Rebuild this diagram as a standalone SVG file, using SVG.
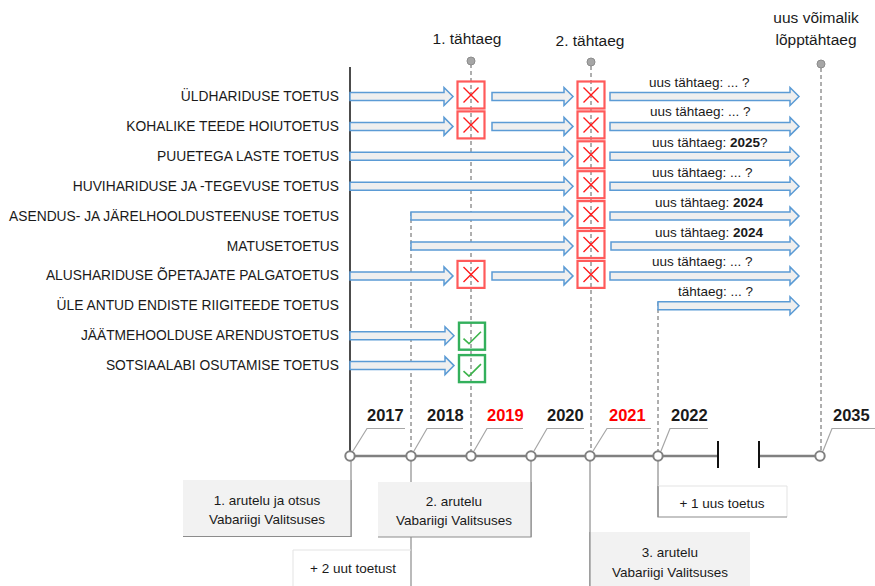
<svg xmlns="http://www.w3.org/2000/svg" width="875" height="586" viewBox="0 0 875 586">
<style>
text{font-family:"Liberation Sans",Arial,sans-serif;fill:#1a1a1a}
.lbl{font-size:13.8px;text-anchor:end}
.dl{font-size:13.5px}
.top{font-size:15.5px;text-anchor:middle}
.yr{font-size:16.5px;font-weight:bold}
.red{fill:#ff0000}
.bx{font-size:13.5px;text-anchor:middle}
.arr{fill:#efefef;stroke:#5b9bd5;stroke-width:1.5;stroke-linejoin:miter}
.xb{fill:none;stroke:#ff5a5a;stroke-width:2.2}
.xx{stroke:#ff1a1a;stroke-width:1.4}
.cb{fill:none;stroke:#33b05c;stroke-width:2.4}
.ck{fill:none;stroke:#3cb44b;stroke-width:1.6}
.dash{stroke:#5f5f5f;stroke-width:1;stroke-dasharray:4 3;fill:none}
.tl{stroke:#808080;stroke-width:2.5;fill:none}
.gl{stroke:#8c8c8c;stroke-width:1.2;fill:none}
.co{stroke:#a6a6a6;stroke-width:1.2;fill:none}
.cir{fill:#fff;stroke:#808080;stroke-width:2}
.dot{fill:#a6a6a6;stroke:#8c8c8c;stroke-width:1}
.tick{stroke:#111;stroke-width:2}
</style>
<rect width="875" height="586" fill="#fff"/>

<!-- connectors -->
<g id="connectors">
  <line x1="350" y1="67" x2="350" y2="451" stroke="#111" stroke-width="1.5"/>
  <line class="dash" x1="471" y1="64" x2="471" y2="451"/>
  <line class="dash" x1="591" y1="66" x2="591" y2="451"/>
  <line class="dash" x1="821" y1="68" x2="821" y2="451"/>
  <line class="dash" x1="411" y1="212" x2="411" y2="451"/>
  <line class="dash" x1="658" y1="302" x2="658" y2="451"/>
  <!-- timeline -->
  <path class="tl" d="M350,456 H718 M759,456 H820"/>
  <line class="tick" x1="718" y1="441" x2="718" y2="468"/>
  <line class="tick" x1="759" y1="441" x2="759" y2="468"/>
  <!-- year callouts -->
  <path class="co" d="M353,451 L367,428.5 H405"/>
  <path class="co" d="M414,451 L427,428.5 H463"/>
  <path class="co" d="M474,451 L487,428.5 H523"/>
  <path class="co" d="M534,451 L547,428.5 H584"/>
  <path class="co" d="M593,451 L607,428.5 H651"/>
  <path class="co" d="M661,451 L670,428.5 H708"/>
  <path class="co" d="M823,451 L832,428.5 H875"/>
  <!-- lines down to discussion boxes -->
  <line class="gl" x1="351" y1="461" x2="351" y2="537"/>
  <line class="gl" x1="411" y1="461" x2="411" y2="586"/>
  <line class="gl" x1="531" y1="461" x2="531" y2="537"/>
  <line class="gl" x1="590" y1="461" x2="590" y2="586"/>
  <line class="gl" x1="658" y1="461" x2="658" y2="517"/>
</g>

<!-- deadline markers -->
<g id="deadline-1">
  <circle class="dot" cx="471" cy="61" r="4"/>
  <text class="top" x="467" y="44">1. tähtaeg</text>
</g>
<g id="deadline-2">
  <circle class="dot" cx="591" cy="62" r="4"/>
  <text class="top" x="590" y="46">2. tähtaeg</text>
</g>
<g id="deadline-final">
  <circle class="dot" cx="821" cy="64" r="4"/>
  <text class="top" x="816" y="23">uus võimalik</text>
  <text class="top" x="816" y="45">lõpptähtaeg</text>
</g>

<!-- rows -->
<g id="row-1" transform="translate(0,96.5)">
  <text class="lbl" x="339" y="4.5">ÜLDHARIDUSE TOETUS</text>
  <path class="arr" d="M350,-4 H444 V-9 L453,0 L444,9 V4 H350 Z"/>
  <path class="arr" d="M492,-4 H564 V-9 L573,0 L564,9 V4 H492 Z"/>
  <path class="arr" d="M610,-4 H790 V-9 L799,0 L790,9 V4 H610 Z"/>
  <rect class="xb" x="457.5" y="-15" width="27" height="27"/>
  <path class="xx" d="M463.5,-9 L478.5,6 M478.5,-9 L463.5,6"/>
  <rect class="xb" x="577.5" y="-15" width="27" height="27"/>
  <path class="xx" d="M583.5,-9 L598.5,6 M598.5,-9 L583.5,6"/>
  <text class="dl" x="649" y="-10">uus tähtaeg: ... ?</text>
</g>
<g id="row-2" transform="translate(0,126.4)">
  <text class="lbl" x="339" y="4.5">KOHALIKE TEEDE HOIUTOETUS</text>
  <path class="arr" d="M350,-4 H444 V-9 L453,0 L444,9 V4 H350 Z"/>
  <path class="arr" d="M492,-4 H564 V-9 L573,0 L564,9 V4 H492 Z"/>
  <path class="arr" d="M610,-4 H790 V-9 L799,0 L790,9 V4 H610 Z"/>
  <rect class="xb" x="457.5" y="-15" width="27" height="27"/>
  <path class="xx" d="M463.5,-9 L478.5,6 M478.5,-9 L463.5,6"/>
  <rect class="xb" x="577.5" y="-15" width="27" height="27"/>
  <path class="xx" d="M583.5,-9 L598.5,6 M598.5,-9 L583.5,6"/>
  <text class="dl" x="650" y="-10">uus tähtaeg: ... ?</text>
</g>
<g id="row-3" transform="translate(0,156.3)">
  <text class="lbl" x="339" y="4.5">PUUETEGA LASTE TOETUS</text>
  <path class="arr" d="M350,-4 H564 V-9 L573,0 L564,9 V4 H350 Z"/>
  <path class="arr" d="M610,-4 H790 V-9 L799,0 L790,9 V4 H610 Z"/>
  <rect class="xb" x="577.5" y="-15" width="27" height="27"/>
  <path class="xx" d="M583.5,-9 L598.5,6 M598.5,-9 L583.5,6"/>
  <text class="dl" x="652" y="-9.5">uus tähtaeg: <tspan font-weight="bold">2025</tspan>?</text>
</g>
<g id="row-4" transform="translate(0,186.2)">
  <text class="lbl" x="339" y="4.5">HUVIHARIDUSE JA -TEGEVUSE TOETUS</text>
  <path class="arr" d="M350,-4 H564 V-9 L573,0 L564,9 V4 H350 Z"/>
  <path class="arr" d="M610,-4 H790 V-9 L799,0 L790,9 V4 H610 Z"/>
  <rect class="xb" x="577.5" y="-15" width="27" height="27"/>
  <path class="xx" d="M583.5,-9 L598.5,6 M598.5,-9 L583.5,6"/>
  <text class="dl" x="652" y="-9.5">uus tähtaeg: ... ?</text>
</g>
<g id="row-5" transform="translate(0,216.1)">
  <text class="lbl" x="339" y="4.5">ASENDUS- JA JÄRELHOOLDUSTEENUSE TOETUS</text>
  <path class="arr" d="M411,-4 H564 V-9 L573,0 L564,9 V4 H411 Z"/>
  <path class="arr" d="M610,-4 H790 V-9 L799,0 L790,9 V4 H610 Z"/>
  <rect class="xb" x="577.5" y="-15" width="27" height="27"/>
  <path class="xx" d="M583.5,-9 L598.5,6 M598.5,-9 L583.5,6"/>
  <text class="dl" x="655" y="-9.5">uus tähtaeg: <tspan font-weight="bold">2024</tspan></text>
</g>
<g id="row-6" transform="translate(0,246)">
  <text class="lbl" x="339" y="4.5">MATUSETOETUS</text>
  <path class="arr" d="M411,-4 H564 V-9 L573,0 L564,9 V4 H411 Z"/>
  <path class="arr" d="M611,-4 H790 V-9 L799,0 L790,9 V4 H611 Z"/>
  <rect class="xb" x="577.5" y="-15" width="27" height="27"/>
  <path class="xx" d="M583.5,-9 L598.5,6 M598.5,-9 L583.5,6"/>
  <text class="dl" x="655" y="-9.5">uus tähtaeg: <tspan font-weight="bold">2024</tspan></text>
</g>
<g id="row-7" transform="translate(0,275.9)">
  <text class="lbl" x="339" y="4.5">ALUSHARIDUSE ÕPETAJATE PALGATOETUS</text>
  <path class="arr" d="M350,-4 H444 V-9 L453,0 L444,9 V4 H350 Z"/>
  <path class="arr" d="M492,-4 H564 V-9 L573,0 L564,9 V4 H492 Z"/>
  <path class="arr" d="M610,-4 H790 V-9 L799,0 L790,9 V4 H610 Z"/>
  <rect class="xb" x="457.5" y="-15" width="27" height="27"/>
  <path class="xx" d="M463.5,-9 L478.5,6 M478.5,-9 L463.5,6"/>
  <rect class="xb" x="577.5" y="-15" width="27" height="27"/>
  <path class="xx" d="M583.5,-9 L598.5,6 M598.5,-9 L583.5,6"/>
  <text class="dl" x="652" y="-9.5">uus tähtaeg: ... ?</text>
</g>
<g id="row-8" transform="translate(0,305.8)">
  <text class="lbl" x="339" y="4.5">ÜLE ANTUD ENDISTE RIIGITEEDE TOETUS</text>
  <path class="arr" d="M658,-4 H790 V-9 L799,0 L790,9 V4 H658 Z"/>
  <text class="dl" x="678" y="-9.5">tähtaeg: ... ?</text>
</g>
<g id="row-9" transform="translate(0,335.7)">
  <text class="lbl" x="339" y="4.5">JÄÄTMEHOOLDUSE ARENDUSTOETUS</text>
  <path class="arr" d="M350,-4 H445 V-9 L454,0 L445,9 V4 H350 Z"/>
  <rect class="cb" x="459" y="-13" width="26" height="27"/>
  <path class="ck" d="M463.5,3 L469,8 L481,-4"/>
</g>
<g id="row-10" transform="translate(0,365.6)">
  <text class="lbl" x="339" y="4.5">SOTSIAALABI OSUTAMISE TOETUS</text>
  <path class="arr" d="M350,-4 H445 V-9 L454,0 L445,9 V4 H350 Z"/>
  <rect class="cb" x="459" y="-10.5" width="26" height="27"/>
  <path class="ck" d="M463.5,5.5 L469,10.5 L481,-1.5"/>
</g>

<!-- timeline years -->
<g id="y2017"><circle class="cir" cx="350" cy="456" r="4.7"/><text class="yr" x="367" y="421">2017</text></g>
<g id="y2018"><circle class="cir" cx="411" cy="456" r="4.7"/><text class="yr" x="427" y="421">2018</text></g>
<g id="y2019"><circle class="cir" cx="471" cy="456" r="4.7"/><text class="yr red" x="487" y="421">2019</text></g>
<g id="y2020"><circle class="cir" cx="531" cy="456" r="4.7"/><text class="yr" x="547" y="421">2020</text></g>
<g id="y2021"><circle class="cir" cx="590" cy="456" r="4.7"/><text class="yr red" x="609" y="421">2021</text></g>
<g id="y2022"><circle class="cir" cx="658" cy="456" r="4.7"/><text class="yr" x="671" y="421">2022</text></g>
<g id="y2035"><circle class="cir" cx="820" cy="456" r="4.7"/><text class="yr" x="833" y="421">2035</text></g>

<!-- discussion boxes -->
<g id="box-1">
  <rect x="183" y="480" width="168" height="56" fill="#f2f2f2"/>
  <path class="gl" d="M351,480 V536.5 H183"/>
  <text class="bx" x="267" y="505">1. arutelu ja otsus</text>
  <text class="bx" x="267" y="524">Vabariigi Valitsuses</text>
</g>
<g id="box-2">
  <rect x="378" y="482" width="153" height="55" fill="#f2f2f2"/>
  <path class="gl" d="M531,482 V537 H378"/>
  <text class="bx" x="454" y="506">2. arutelu</text>
  <text class="bx" x="454" y="524.5">Vabariigi Valitsuses</text>
</g>
<g id="box-2b">
  <path d="M411,550 H293 V586" fill="#fff" stroke="#e3e3e3" stroke-width="1"/>
  <text class="bx" x="353" y="573">+ 2 uut toetust</text>
</g>
<g id="box-3">
  <rect x="590" y="532" width="160" height="54" fill="#f2f2f2"/>
  <line class="gl" x1="590" y1="532" x2="590" y2="586"/>
  <text class="bx" x="670" y="557">3. arutelu</text>
  <text class="bx" x="670" y="577">Vabariigi Valitsuses</text>
</g>
<g id="box-4">
  <path d="M658,486 H787 V517" fill="none" stroke="#e3e3e3" stroke-width="1"/>
  <path class="gl" d="M658,486 V517 H787"/>
  <text class="bx" x="722" y="507.5">+ 1 uus toetus</text>
</g>
</svg>
